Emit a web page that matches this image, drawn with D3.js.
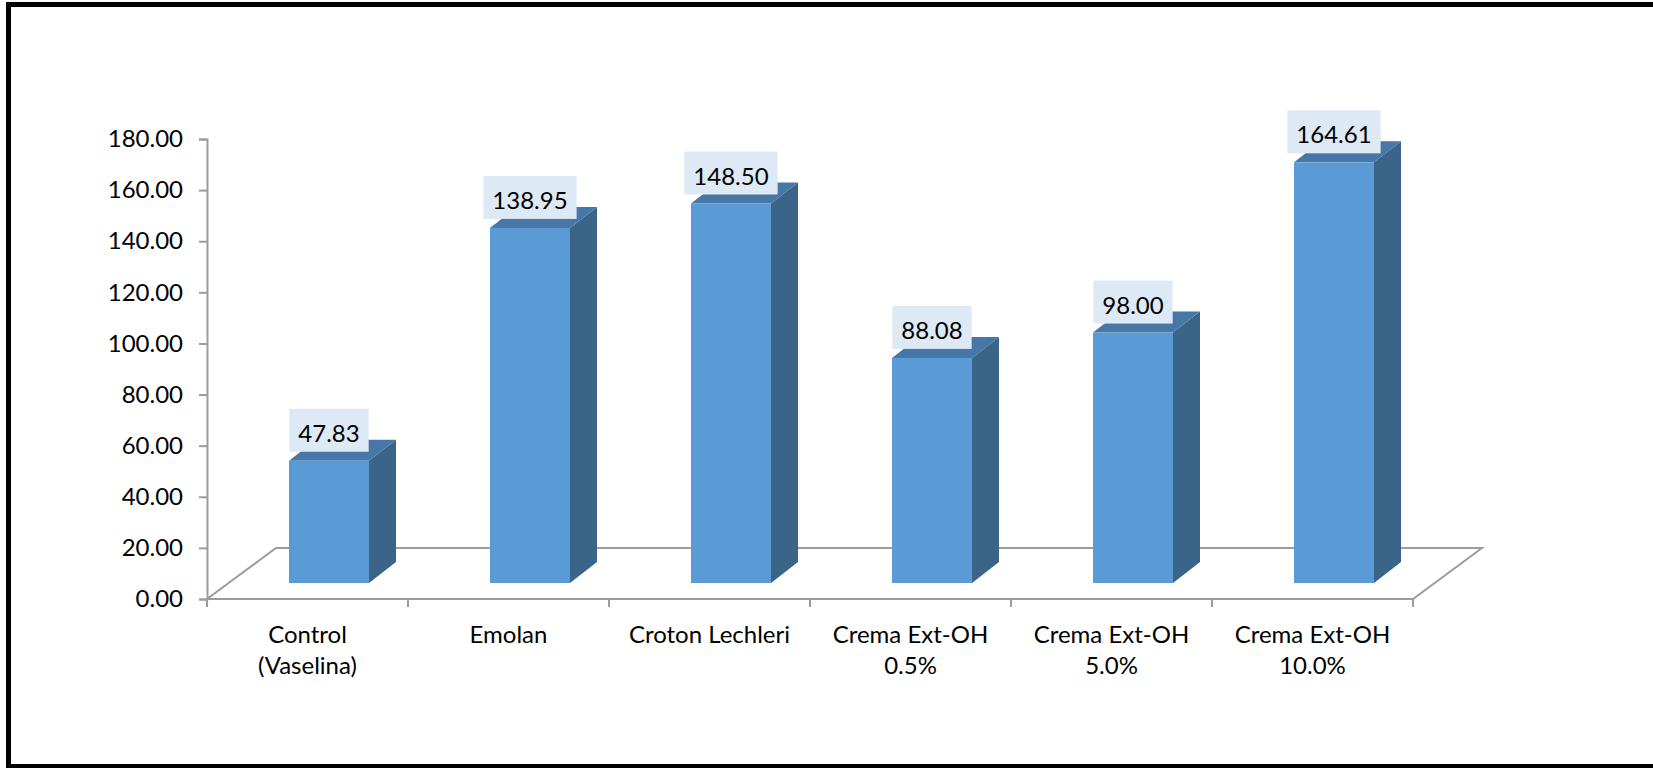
<!DOCTYPE html>
<html><head><meta charset="utf-8">
<script src="https://cdn.jsdelivr.net/npm/d3@7"></script>
<style>html,body{margin:0;padding:0;background:#fff;overflow:hidden}</style>
</head><body>
<svg id="chart" width="1653" height="768"></svg>
<script>
const categories = [["Control","(Vaselina)"],["Emolan"],["Croton Lechleri"],["Crema Ext-OH","0.5%"],["Crema Ext-OH","5.0%"],["Crema Ext-OH","10.0%"]];
const values = [47.83, 138.95, 148.50, 88.08, 98.00, 164.61];
const tickValues = [0,20,40,60,80,100,120,140,160,180];

const FONT = "Lato, 'Open Sans', sans-serif";
const FS = 24;
const svg = d3.select("#chart");

// frame
svg.append("rect").attr("x",8.5).attr("y",4.5).attr("width",1700).attr("height",762)
  .attr("fill","none").attr("stroke","#000").attr("stroke-width",5);

const keys = categories.map(c=>c.join(" "));
const x = d3.scaleBand().domain(keys).range([207,1413]).padding(0);
const y = d3.scaleLinear().domain([0,180]).range([599,139]);

const floorDx = 69, floorDy = -51;
const planeDx = 21.5, planeDy = -16;
const depDx = 27, depDy = -21;
const barW = 80;
const axisColor = "#9c9c9c";

// floor
const y0 = y(0);
svg.append("path")
  .attr("d",`M${x.range()[0]},${y0} L${x.range()[1]},${y0} L${x.range()[1]+floorDx},${y0+floorDy} L${x.range()[0]+floorDx},${y0+floorDy} Z`)
  .attr("fill","none").attr("stroke",axisColor).attr("stroke-width",2);

// y axis
const yAxis = svg.append("g").attr("transform",`translate(207,0)`)
  .call(d3.axisLeft(y).tickValues(tickValues).tickSize(8).tickPadding(16).tickFormat(d3.format(".2f")));
yAxis.select(".domain").attr("stroke",axisColor).attr("stroke-width",2);
yAxis.selectAll(".tick line").attr("stroke",axisColor).attr("stroke-width",2);
yAxis.selectAll(".tick text").attr("font-family",FONT).attr("font-size",FS).attr("fill","#000");

// x axis ticks
const xt = svg.append("g");
const bounds = keys.map(k=>x(k)).concat([x.range()[1]]);
xt.selectAll("line").data(bounds).join("line")
  .attr("x1",d=>d).attr("x2",d=>d).attr("y1",y0).attr("y2",y0+8)
  .attr("stroke",axisColor).attr("stroke-width",2);

// category labels
categories.forEach((lines,i)=>{
  const cx = x(keys[i]) + x.bandwidth()/2;
  const t = svg.append("text").attr("text-anchor","middle").attr("font-family",FONT).attr("font-size",FS).attr("fill","#000");
  lines.forEach((ln,j)=>{
    t.append("tspan").attr("x",cx).attr("y",643 + j*31).text(ln);
  });
});

// bars
const bars = svg.append("g");
values.forEach((v,i)=>{
  const cx = x(keys[i]) + x.bandwidth()/2 + planeDx;
  const x0 = cx - barW/2, x1 = cx + barW/2;
  const yb = y(0) + planeDy, yt = y(v) + planeDy;
  // side
  bars.append("path").attr("d",`M${x1},${yt} L${x1+depDx},${yt+depDy} L${x1+depDx},${yb+depDy} L${x1},${yb} Z`).attr("fill","#3a6589");
  // top
  bars.append("path").attr("d",`M${x0},${yt} L${x0+depDx},${yt+depDy} L${x1+depDx},${yt+depDy} L${x1},${yt} Z`).attr("fill","#4777a7");
  // front
  bars.append("rect").attr("x",x0).attr("y",yt).attr("width",barW).attr("height",yb-yt).attr("fill","#5b9bd5");
  // label
  const g = bars.append("g");
  const txt = g.append("text").attr("x",cx).attr("y",yt-19).attr("text-anchor","middle")
    .attr("font-family",FONT).attr("font-size",FS).attr("fill","#000").text(d3.format(".2f")(v));
  const w = txt.node().getComputedTextLength();
  g.insert("rect","text").attr("x",cx - w/2 - 9).attr("y",yt-52).attr("width",w+18).attr("height",43).attr("fill","#dde9f5");
});
</script>
</body></html>
